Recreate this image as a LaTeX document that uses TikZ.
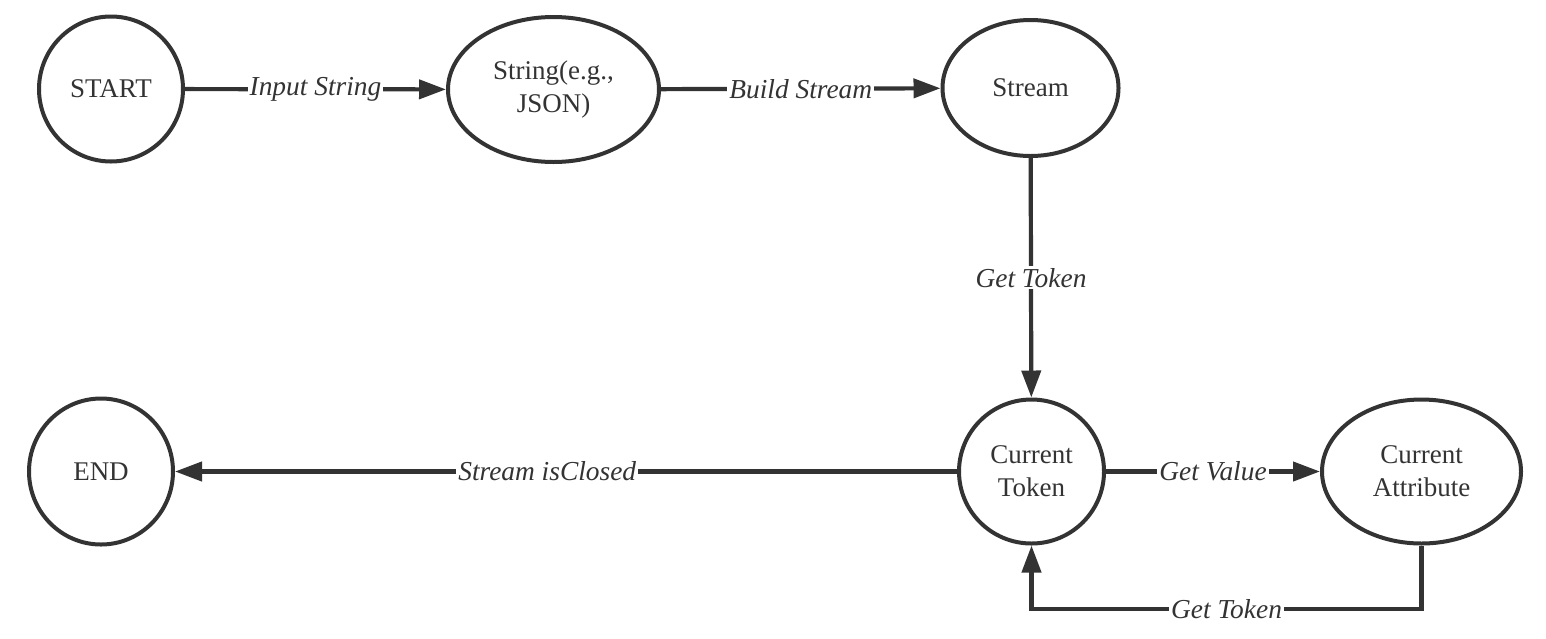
\documentclass[tikz,border=0pt]{standalone}
\usepackage{fontspec}
\setmainfont{Liberation Serif}
\usetikzlibrary{shapes.geometric,arrows.meta}
\definecolor{ink}{HTML}{333333}
\tikzset{
  state/.style={ellipse, draw=ink, line width=2pt, inner sep=0pt, text=ink,
    align=center, font=\fontsize{13.5}{16.5}\selectfont},
  conn/.style={draw=ink, line width=2.1pt, -{Triangle[length=13.5pt,width=9.5pt]}},
  lbl/.style={fill=white, inner sep=1pt, text=ink, font=\fontsize{13.7}{16}\selectfont\itshape}
}
\begin{document}
\begin{tikzpicture}[x=0.5pt,y=-0.5pt]
\useasboundingbox (0,0) rectangle (1546,638);
\node[state, minimum width=72pt, minimum height=72.5pt] (start) at (111,89) {START};
\node[state, minimum width=105.5pt, minimum height=72.5pt] (string) at (553.5,89.5) {String(e.g.,\\JSON)};
\node[state, minimum width=88pt, minimum height=68pt] (stream) at (1030.5,88) {Stream};
\node[state, minimum width=72.5pt, minimum height=72pt] (token) at (1031.5,471.5) {Current\\Token};
\node[state, minimum width=99.5pt, minimum height=72pt] (attr) at (1421.5,471.5) {Current\\Attribute};
\node[state, minimum width=72pt, minimum height=73pt] (end) at (101,471.5) {END};
\coordinate (c1) at (1421.5,609);
\coordinate (c2) at (1031.5,609);
\draw[conn] (start) -- node[lbl]{Input String} (string);
\draw[conn] (string) -- node[lbl]{Build Stream} (stream);
\draw[conn] (stream) -- node[lbl]{Get Token} (token);
\draw[conn] (token) -- node[lbl, pos=0.524]{Stream isClosed} (end);
\draw[conn] (token) -- node[lbl]{Get Value} (attr);
\draw[conn] (attr.south) -- (c1) -- node[lbl]{Get Token} (c2) -- (token.south);
\end{tikzpicture}
\end{document}
